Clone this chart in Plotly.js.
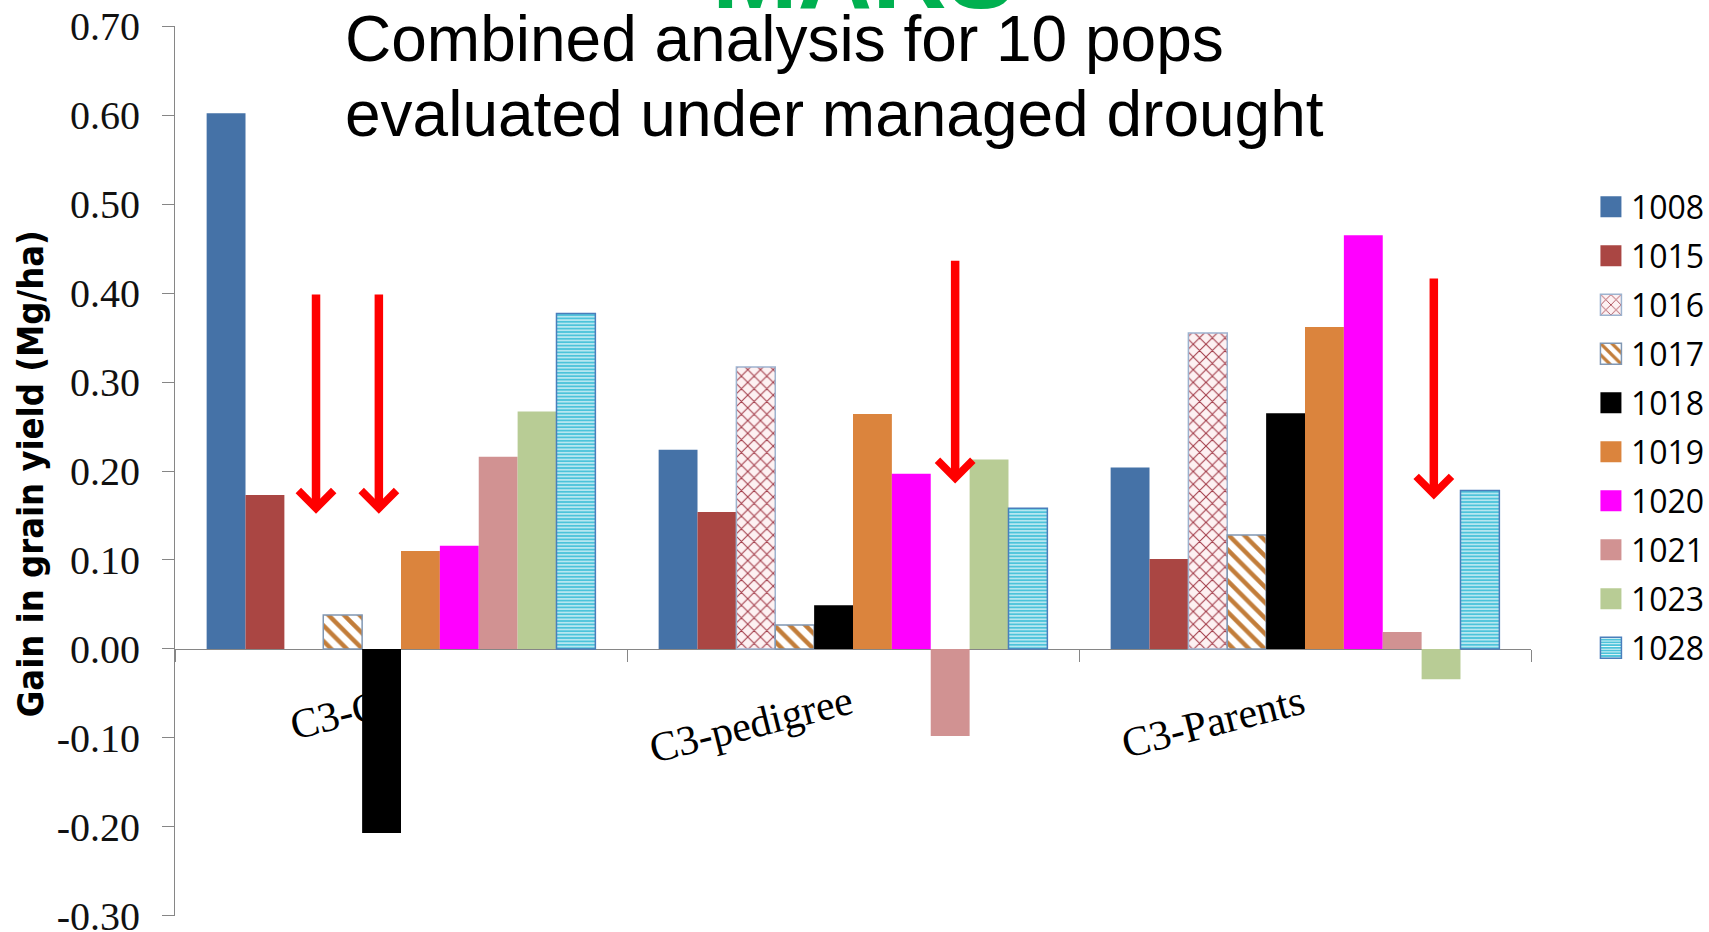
<!DOCTYPE html>
<html>
<head>
<meta charset="utf-8">
<script src="https://cdn.plot.ly/plotly-3.0.1.min.js"></script>
<style>
  html, body { margin: 0; padding: 0; background: #ffffff; }
  #chart { width: 1709px; height: 932px; }
</style>
</head>
<body>
<div id="chart"></div>
<script>
// Comparison groups on the x axis
const groups = ['C3-C0', 'C3-pedigree', 'C3-Parents'];

// Gain in grain yield (Mg/ha) for each population, one value per group
const pop1008 = [0.602, 0.224, 0.204];
const pop1015 = [0.173, 0.154, 0.101];
const pop1016 = [null, 0.317, 0.355];
const pop1017 = [0.038, 0.027, 0.128];
const pop1018 = [-0.207, 0.049, 0.265];
const pop1019 = [0.110, 0.264, 0.362];
const pop1020 = [0.116, 0.197, 0.465];
const pop1021 = [0.216, -0.098, 0.019];
const pop1023 = [0.267, 0.213, -0.034];
const pop1028 = [0.377, 0.158, 0.178];

// Y axis ticks
const yTickVals = [-0.3, -0.2, -0.1, 0, 0.1, 0.2, 0.3, 0.4, 0.5, 0.6, 0.7];
const yTickText = ['-0.30', '-0.20', '-0.10', '0.00', '0.10', '0.20', '0.30', '0.40', '0.50', '0.60', '0.70'];

// Highlight arrows: [x position (category units), arrow tip value, arrow tail value]
const arrows = [
  [-0.188, 0.152, 0.400],
  [-0.049, 0.152, 0.400],
  [1.226, 0.186, 0.438],
  [2.285, 0.168, 0.418]
];

function solid(name, values, color) {
  return {
    type: 'bar', name: name, legendgroup: name, x: groups, y: values,
    marker: { color: color, line: { width: 0 } }
  };
}

function patterned(name, values, shape, fg, bg, size, solidity, border) {
  return {
    type: 'bar', name: name, legendgroup: name, x: groups, y: values,
    marker: {
      color: bg,
      line: { width: 1.5, color: border },
      pattern: { shape: shape, fgcolor: fg, bgcolor: bg, size: size, solidity: solidity, fillmode: 'replace' }
    }
  };
}

const traces = [
  solid('1008', pop1008, '#4572A7'),
  solid('1015', pop1015, '#AA4643'),
  patterned('1016', pop1016, 'x', '#A23B48', '#FDF1F2', 9, 0.22, '#9DB3CF'),
  patterned('1017', pop1017, '\\', '#C27D3A', '#FFFFFF', 11, 0.4, '#8097B3'),
  solid('1018', pop1018, '#000000'),
  solid('1019', pop1019, '#DB843D'),
  solid('1020', pop1020, '#FF00FF'),
  solid('1021', pop1021, '#D19292'),
  solid('1023', pop1023, '#B8CC95'),
  patterned('1028', pop1028, '-', '#FFFFFF', '#4CC3DA', 3.4, 0.3, '#4A7EBB')
];

const axisGray = '#868686';

const annotations = [
  {
    text: 'MARS', xref: 'paper', yref: 'paper', x: 0.3945, y: 1, yshift: 54,
    xanchor: 'left', yanchor: 'middle', showarrow: false,
    font: { family: 'Liberation Sans, Arial, sans-serif', size: 103, color: '#00B050', weight: 'bold' }
  },
  {
    text: 'Combined analysis for 10 pops', xref: 'paper', yref: 'paper', x: 0.1239, y: 1, yshift: -13,
    xanchor: 'left', yanchor: 'middle', showarrow: false,
    font: { family: 'Liberation Sans, Arial, sans-serif', size: 64, color: '#000000' }
  },
  {
    text: 'evaluated under managed drought', xref: 'paper', yref: 'paper', x: 0.1239, y: 1, yshift: -88,
    xanchor: 'left', yanchor: 'middle', showarrow: false,
    font: { family: 'Liberation Sans, Arial, sans-serif', size: 64, color: '#000000' }
  },
  {
    text: 'Gain in grain yield (Mg/ha)', xref: 'paper', yref: 'paper', x: 0, xshift: -145, y: 0.4963,
    xanchor: 'center', yanchor: 'middle', textangle: -90, showarrow: false,
    font: { family: 'DejaVu Sans Condensed, sans-serif', size: 36, color: '#000000', weight: 'bold' }
  }
];

arrows.forEach(function (a) {
  annotations.push({
    text: '', x: a[0], y: a[1], ax: a[0], ay: a[2],
    xref: 'x', yref: 'y', axref: 'x', ayref: 'y',
    showarrow: true, arrowhead: 4, arrowsize: 0.8, arrowwidth: 8.5, arrowcolor: '#FF0000', standoff: 0
  });
});

const layout = {
  width: 1709, height: 932,
  margin: { l: 175, r: 178, t: 26, b: 16, pad: 0, autoexpand: false },
  paper_bgcolor: '#ffffff', plot_bgcolor: '#ffffff',
  barmode: 'group', bargap: 0.14, bargroupgap: 0,
  showlegend: true,
  legend: {
    x: 1.0442, xanchor: 'left', y: 0.8275, yanchor: 'top',
    traceorder: 'grouped', tracegroupgap: 4.4,
    bgcolor: 'rgba(0,0,0,0)', borderwidth: 0,
    font: { family: 'Open Sans, sans-serif', size: 32, color: '#000000' }
  },
  xaxis: {
    type: 'category', anchor: 'free', position: 0.3,
    showline: true, linecolor: axisGray, linewidth: 1,
    ticks: 'outside', tickson: 'boundaries', ticklen: 12, tickcolor: axisGray,
    tickangle: -14, ticklabelstandoff: 13, ticklabelshift: -3,
    tickfont: { family: 'Liberation Serif, Times New Roman, serif', size: 42, color: '#000000' },
    showgrid: false, zeroline: false, layer: 'below traces', fixedrange: true
  },
  yaxis: {
    range: [-0.3002, 0.7002], tickmode: 'array', tickvals: yTickVals, ticktext: yTickText,
    showline: true, linecolor: axisGray, linewidth: 1,
    ticks: 'outside', ticklen: 12, tickcolor: axisGray, ticklabelstandoff: 14,
    ticklabeloverflow: 'allow',
    tickfont: { family: 'Liberation Serif, Times New Roman, serif', size: 40, color: '#111111' },
    showgrid: false, zeroline: false, fixedrange: true
  },
  annotations: annotations
};

Plotly.newPlot('chart', traces, layout, { displayModeBar: false, staticPlot: true }).then(function (gd) {
  // enlarge the legend swatches to 21px squares
  gd.querySelectorAll('.legend .legendpoints path').forEach(function (p) {
    p.setAttribute('d', 'M10.5,10.5H-10.5V-10.5H10.5Z');
  });
});
</script>
</body>
</html>
